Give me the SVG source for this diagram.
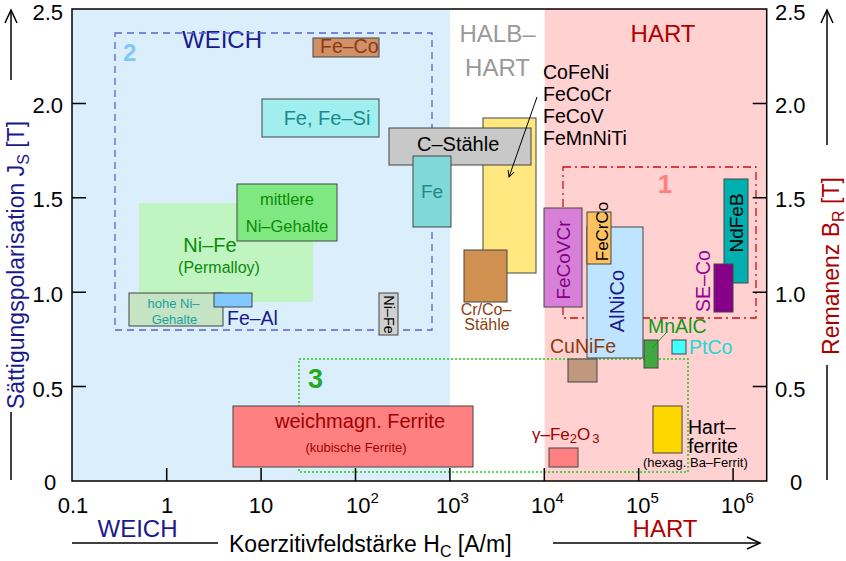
<svg xmlns="http://www.w3.org/2000/svg" width="846" height="561" viewBox="0 0 846 561">
<style>
text{font-family:"Liberation Sans",Arial,sans-serif}
.tk{font-size:22px;fill:#000}
.box{stroke:#444;stroke-width:1}
.ax{stroke:#000;stroke-width:1.5;fill:none}
.lbl{font-size:19.5px}
</style>
<defs>
<marker id="ah" viewBox="0 0 10 10" refX="9" refY="5" markerWidth="8" markerHeight="8" orient="auto" markerUnits="userSpaceOnUse">
<path d="M1,1 L9,5 L1,9" fill="none" stroke="#000" stroke-width="1.2"/>
</marker>
</defs>
<rect width="846" height="561" fill="#fff"/>
<g id="regions">
<rect x="72" y="9" width="378" height="472" fill="#dbeefc"/>
<rect x="544.7" y="9" width="222" height="472" fill="#ffd1d1"/>
<text x="222" y="48" font-size="24" fill="#1a1a8c" text-anchor="middle">WEICH</text>
<text x="497.5" y="42" font-size="24" fill="#999" text-anchor="middle">HALB–</text>
<text x="497.5" y="76" font-size="24" fill="#999" text-anchor="middle">HART</text>
<text x="663" y="42" font-size="24" fill="#b00000" text-anchor="middle">HART</text>
</g>
<g id="group2">
<rect x="115" y="33" width="317" height="297" fill="none" stroke="#5a64d0" stroke-width="1.3" stroke-dasharray="7,5"/>
<text x="123" y="61" font-size="24" font-weight="bold" fill="#80c8f8">2</text>
</g>
<g id="group1">
<rect x="563" y="167" width="193" height="151" fill="none" stroke="#cc1111" stroke-width="1.3" stroke-dasharray="8,4,2,4"/>
<text x="665" y="193" font-size="26" font-weight="bold" fill="#ff7f7f" text-anchor="middle">1</text>
</g>
<g id="group3">
<rect x="299" y="359" width="389" height="113" fill="none" stroke="#22cc22" stroke-width="1.5" stroke-dasharray="2,2"/>
<text x="308" y="388" font-size="27" font-weight="bold" fill="#22aa22">3</text>
</g>
<g id="permalloy">
<rect x="139" y="203" width="174" height="99" fill="#c0f4c0"/>
<text x="210" y="252" font-size="20" fill="#0a8a0a" text-anchor="middle">Ni–Fe</text>
<text x="219" y="273" font-size="16" fill="#0a8a0a" text-anchor="middle">(Permalloy)</text>
</g>
<g id="feco">
<rect class="box" x="313" y="38" width="66" height="19" fill="#d09068"/>
<text x="320" y="53" class="lbl" fill="#8b3a10">Fe–Co</text>
</g>
<g id="fesi">
<rect class="box" x="262" y="99" width="117" height="38" fill="#a0eeee"/>
<text x="327" y="125" font-size="20" fill="#1a8a8a" text-anchor="middle">Fe, Fe–Si</text>
</g>
<g id="mittlere">
<rect class="box" x="237" y="184" width="100" height="57" fill="#80e880"/>
<text x="287" y="205" font-size="16.5" fill="#0a8a0a" text-anchor="middle">mittlere</text>
<text x="287" y="232" font-size="16.5" fill="#0a8a0a" text-anchor="middle">Ni–Gehalte</text>
</g>
<g id="hoheni">
<rect class="box" x="129" y="293" width="94" height="33" fill="#c4e4c4"/>
<text x="173.5" y="308" font-size="13" fill="#20a0a0" text-anchor="middle">hohe Ni–</text>
<text x="174.5" y="324" font-size="13" fill="#20a0a0" text-anchor="middle">Gehalte</text>
</g>
<g id="feal">
<rect class="box" x="214" y="293" width="38" height="14" fill="#80c8ff"/>
<text x="227" y="325" class="lbl" fill="#1a1a8c">Fe–Al</text>
</g>
<g id="nife">
<rect class="box" x="379" y="293" width="19" height="42" fill="#d0d0d0"/>
<text transform="translate(384,314.5) rotate(90)" font-size="14.5" fill="#000" text-anchor="middle">Ni–Fe</text>
</g>
<g id="cofeni">
<rect class="box" x="483" y="118" width="53" height="155" fill="#ffe880"/>
<text x="543" y="79" class="lbl" fill="#000">CoFeNi</text>
<text x="543" y="101" class="lbl" fill="#000">FeCoCr</text>
<text x="543" y="123" class="lbl" fill="#000">FeCoV</text>
<text x="543" y="145" class="lbl" fill="#000">FeMnNiTi</text>
</g>
<g id="cstaehle">
<rect class="box" x="389" y="128" width="142" height="37" fill="#c8c8c8"/>
<text x="417" y="151" font-size="20" fill="#000">C–Stähle</text>
</g>
<g id="fe">
<rect class="box" x="413" y="156" width="38" height="71" fill="#80d8d8"/>
<text x="432" y="198" font-size="19" fill="#1a8a8a" text-anchor="middle">Fe</text>
</g>
<g id="crco">
<rect class="box" x="464" y="250" width="43" height="52" fill="#d09050"/>
<text x="486" y="315" font-size="16" fill="#8b4010" text-anchor="middle">Cr/Co–</text>
<text x="487" y="330" font-size="16" fill="#8b4010" text-anchor="middle">Stähle</text>
</g>
<g id="weichferrite">
<rect class="box" x="233" y="406" width="240" height="61" fill="#ff8080"/>
<text x="360" y="428" font-size="20" fill="#a00000" text-anchor="middle">weichmagn. Ferrite</text>
<text x="356" y="452" font-size="13" fill="#a00000" text-anchor="middle">(kubische Ferrite)</text>
</g>
<g id="fecovcr">
<rect class="box" x="544" y="208" width="38" height="99" fill="#d880d8"/>
<text transform="translate(570,260) rotate(-90)" font-size="19" fill="#800080" text-anchor="middle">FeCoVCr</text>
</g>
<g id="alnico">
<rect class="box" x="587" y="227" width="56" height="131" fill="#bfe4ff"/>
<text transform="translate(624,301) rotate(-90)" font-size="20" fill="#1a1a8c" text-anchor="middle">AlNiCo</text>
</g>
<g id="fecrco">
<rect class="box" x="587" y="212" width="24" height="52" fill="#ffc060"/>
<text transform="translate(608,231.5) rotate(-90)" font-size="17" fill="#000" text-anchor="middle">FeCrCo</text>
</g>
<g id="ndfeb">
<rect class="box" x="724" y="179" width="24" height="104" fill="#00b0b0"/>
<text transform="translate(743,223) rotate(-90)" font-size="19" fill="#000" text-anchor="middle">NdFeB</text>
</g>
<g id="seco">
<rect class="box" x="714" y="264" width="19" height="48" fill="#880088"/>
<text transform="translate(710,281) rotate(-90)" font-size="19.5" fill="#990099" text-anchor="middle">SE–Co</text>
</g>
<g id="cunife">
<rect class="box" x="568" y="359" width="29" height="23" fill="#c09880"/>
<text x="550" y="353" class="lbl" fill="#8b3a10">CuNiFe</text>
</g>
<g id="mnalc">
<rect class="box" x="644" y="340" width="14" height="28" fill="#40a840"/>
<text x="648" y="333" class="lbl" fill="#119911">MnAlC</text>
</g>
<g id="ptco">
<rect class="box" x="672" y="340" width="14" height="14" fill="#40ffff"/>
<text x="689" y="354" class="lbl" fill="#22d8d8">PtCo</text>
</g>
<g id="gammafe2o3">
<rect class="box" x="549" y="448" width="29" height="19" fill="#ff8080"/>
<text x="532" y="440" font-size="17" fill="#a00000">γ–Fe<tspan font-size="13" dy="3">2</tspan><tspan dy="-3">O</tspan><tspan font-size="13" dx="2" dy="3">3</tspan></text>
</g>
<g id="hartferrite">
<rect class="box" x="653" y="406" width="29" height="47" fill="#ffd700"/>
<text x="688" y="434" font-size="19.5" fill="#000">Hart–</text>
<text x="688" y="453" font-size="19.5" fill="#000">ferrite</text>
<text x="643" y="467" font-size="13" fill="#000">(hexag. Ba–Ferrit)</text>
</g>
<g id="connectors">
<line x1="537" y1="97" x2="509" y2="177" stroke="#000" stroke-width="1" marker-end="url(#ah)"/>
<line x1="667" y1="332" x2="652" y2="348" stroke="#119911" stroke-width="1"/>
</g>
<g id="axes">
<rect class="ax" x="72" y="9" width="694.7" height="472"/>
<path d="M72,103.4h14M72,197.8h14M72,292.2h14M72,386.6h14M752.7,103.4h14M752.7,197.8h14M752.7,292.2h14M752.7,386.6h14M166.7,481v-13M261.1,481v-13M355.5,481v-13M449.9,481v-13M544.3,481v-13M638.7,481v-13M733.1,481v-13" stroke="#000" stroke-width="1.5"/>
<g class="tk" text-anchor="end">
<text x="63" y="20">2.5</text>
<text x="63" y="113">2.0</text>
<text x="63" y="207">1.5</text>
<text x="63" y="302">1.0</text>
<text x="63" y="397">0.5</text>
</g>
<text class="tk" x="50" y="490" text-anchor="middle">0</text>
<g class="tk">
<text x="775" y="20">2.5</text>
<text x="775" y="113">2.0</text>
<text x="775" y="207">1.5</text>
<text x="775" y="302">1.0</text>
<text x="775" y="397">0.5</text>
<text x="790" y="490">0</text>
</g>
<g class="tk" text-anchor="middle">
<text x="73" y="513">0.1</text>
<text x="167" y="513">1</text>
<text x="261" y="513">10</text>
</g>
<g class="tk">
<text x="346" y="513">10<tspan font-size="15" dy="-10">2</tspan></text>
<text x="436" y="513">10<tspan font-size="15" dy="-10">3</tspan></text>
<text x="531" y="513">10<tspan font-size="15" dy="-10">4</tspan></text>
<text x="626" y="513">10<tspan font-size="15" dy="-10">5</tspan></text>
<text x="721" y="513">10<tspan font-size="15" dy="-10">6</tspan></text>
</g>
</g>
<g id="axislabels">
<text x="137.5" y="537" font-size="24" fill="#1a1a8c" text-anchor="middle">WEICH</text>
<line x1="72" y1="543" x2="218" y2="543" stroke="#000" stroke-width="1.5"/>
<text x="229" y="552" font-size="23" fill="#000">Koerzitivfeldstärke H<tspan font-size="16" dy="5">C</tspan><tspan dy="-5"> [A/m]</tspan></text>
<line x1="553" y1="543" x2="760" y2="543" stroke="#000" stroke-width="1.5"/>
<path d="M747,537 L760,543 L747,549" fill="none" stroke="#000" stroke-width="1.5"/>
<text x="665" y="537" font-size="24" fill="#b00000" text-anchor="middle">HART</text>
<line x1="11" y1="80" x2="11" y2="10" stroke="#000" stroke-width="1.5"/>
<path d="M5,23 L11,10 L17,23" fill="none" stroke="#000" stroke-width="1.5"/>
<line x1="11" y1="412" x2="11" y2="480" stroke="#000" stroke-width="1.5"/>
<text transform="translate(24,265) rotate(-90)" font-size="23" fill="#1a1a8c" text-anchor="middle">Sättigungspolarisation J<tspan font-size="16" dy="5">S</tspan><tspan dy="-5"> [T]</tspan></text>
<line x1="827" y1="145" x2="827" y2="10" stroke="#000" stroke-width="1.5"/>
<path d="M821,23 L827,10 L833,23" fill="none" stroke="#000" stroke-width="1.5"/>
<line x1="827" y1="365" x2="827" y2="480" stroke="#000" stroke-width="1.5"/>
<text transform="translate(839,266) rotate(-90)" font-size="23" fill="#aa0000" text-anchor="middle">Remanenz B<tspan font-size="16" dy="5">R</tspan><tspan dy="-5"> [T]</tspan></text>
</g>
</svg>
